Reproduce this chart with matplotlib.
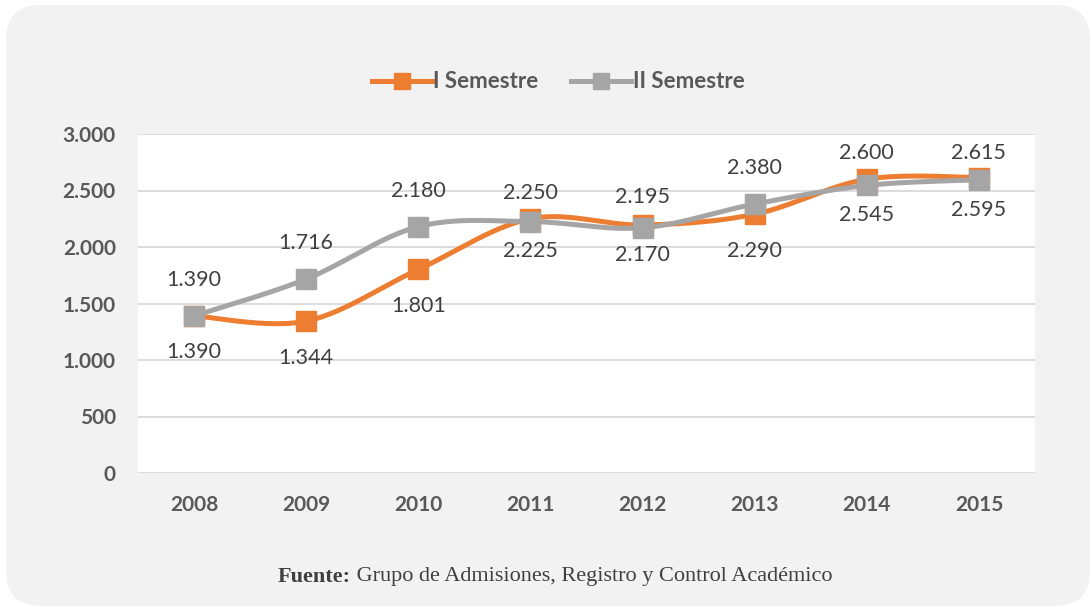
import matplotlib.pyplot as plt
import numpy as np
from matplotlib.patches import FancyBboxPatch

years = ['2008', '2009', '2010', '2011', '2012', '2013', '2014', '2015']
sem1 = [1390, 1344, 1801, 2250, 2195, 2290, 2600, 2615]
sem2 = [1390, 1716, 2180, 2225, 2170, 2380, 2545, 2595]
# data label offsets in px (+ above, - below)
sem1_off = [-36, -37, -37, 26, 28, -37, 26, 25]
sem2_off = [36, 36, 36, -29, -27, 36, -30, -30]

ORANGE = '#ED7D31'; GREY = '#A5A5A5'; TXT = '#595959'; LBL = '#404040'
BG = '#F2F2F2'; GRID = '#D9D9D9'
SANS = 'Lato'; SERIF = 'Liberation Serif'


def smooth(xs, ys, n=30):
    # excel-like bezier smoothing through the points
    p = np.column_stack([xs, ys]).astype(float)
    p = np.vstack([p[0], p, p[-1]])
    out = []
    for i in range(1, len(p) - 2):
        p0, p1, p2, p3 = p[i - 1], p[i], p[i + 1], p[i + 2]
        c1 = p1 + (p2 - p0) / 6
        c2 = p2 - (p3 - p1) / 6
        t = np.linspace(0, 1, n)[:, None]
        seg = ((1 - t) ** 3) * p1 + 3 * ((1 - t) ** 2) * t * c1 + 3 * (1 - t) * t ** 2 * c2 + t ** 3 * p2
        out.append(seg if i == 1 else seg[1:])
    out = np.vstack(out)
    return out[:, 0], out[:, 1]


fig = plt.figure(figsize=(10.91, 6.07), dpi=100, facecolor='white')

bg = fig.add_axes([0, 0, 1, 1])
bg.set_xlim(0, 1091); bg.set_ylim(607, 0); bg.axis('off')
bg.add_patch(FancyBboxPatch((6 + 35, 5 + 35), 1084 - 70, 601 - 70,
                            boxstyle='round,pad=35', fc=BG, ec='none'))

ax = fig.add_axes([138 / 1091, 1 - 473 / 607, 897 / 1091, 339 / 607])
ax.set_facecolor('white')
x = np.arange(len(years))

for vals, col, lab in [(sem1, ORANGE, 'I Semestre'), (sem2, GREY, 'II Semestre')]:
    sx, sy = smooth(x, vals)
    ax.plot(sx, sy, color=col, lw=3.6, solid_capstyle='round', zorder=3)
    ax.plot(x, vals, ls='none', marker='s', ms=14, color=col, zorder=4)
    ax.plot([], [], color=col, lw=3.6, marker='s', ms=11, label=lab)

for vals, offs in [(sem1, sem1_off), (sem2, sem2_off)]:
    for xi, v, o in zip(x, vals, offs):
        ax.annotate(f'{v / 1000:.3f}', (xi, v), xytext=(0, o * 0.72),
                    textcoords='offset points', ha='center', va='center',
                    fontsize=15.5, color=LBL, family=SANS)

ticks = list(range(0, 3001, 500))
ax.set_xlim(-0.5, len(years) - 0.5)
ax.set_ylim(0, 3000)
ax.set_yticks(ticks)
ax.set_yticklabels([f'{t / 1000:.3f}' if t >= 1000 else str(t) for t in ticks])
ax.set_xticks(x)
ax.set_xticklabels(years)
ax.grid(axis='y', color=GRID, lw=1.3)
ax.set_axisbelow(True)
ax.tick_params(length=0, labelsize=15, labelcolor=TXT)
ax.tick_params(axis='y', pad=16)
ax.tick_params(axis='x', pad=16)
for t in ax.get_xticklabels() + ax.get_yticklabels():
    t.set_fontweight('bold'); t.set_family(SANS)
for s in ax.spines.values():
    s.set_visible(False)

leg = ax.legend(loc='center', bbox_to_anchor=(558 / 1091, 1 - 82 / 607),
                bbox_transform=fig.transFigure, ncol=2, frameon=False,
                handlelength=2.7, columnspacing=1.5, handletextpad=0.05,
                prop={'family': SANS, 'weight': 'bold', 'size': 16})
for t in leg.get_texts():
    t.set_color(TXT)

# footer: bold "Fuente:" + regular source, centred as one line
fy = 577
t1 = bg.text(0, fy, 'Fuente:', ha='left', va='center', fontsize=16,
             fontweight='bold', color=LBL, family=SERIF)
t2 = bg.text(0, fy, ' Grupo de Admisiones, Registro y Control Académico',
             ha='left', va='center', fontsize=16, color=LBL, family=SERIF)
r = fig.canvas.get_renderer()
w1 = t1.get_window_extent(r).width
w2 = t2.get_window_extent(r).width
x0 = 555 - (w1 + w2) / 2
t1.set_x(x0)
t2.set_x(x0 + w1)

fig.savefig('out.png', dpi=100, facecolor='white')
